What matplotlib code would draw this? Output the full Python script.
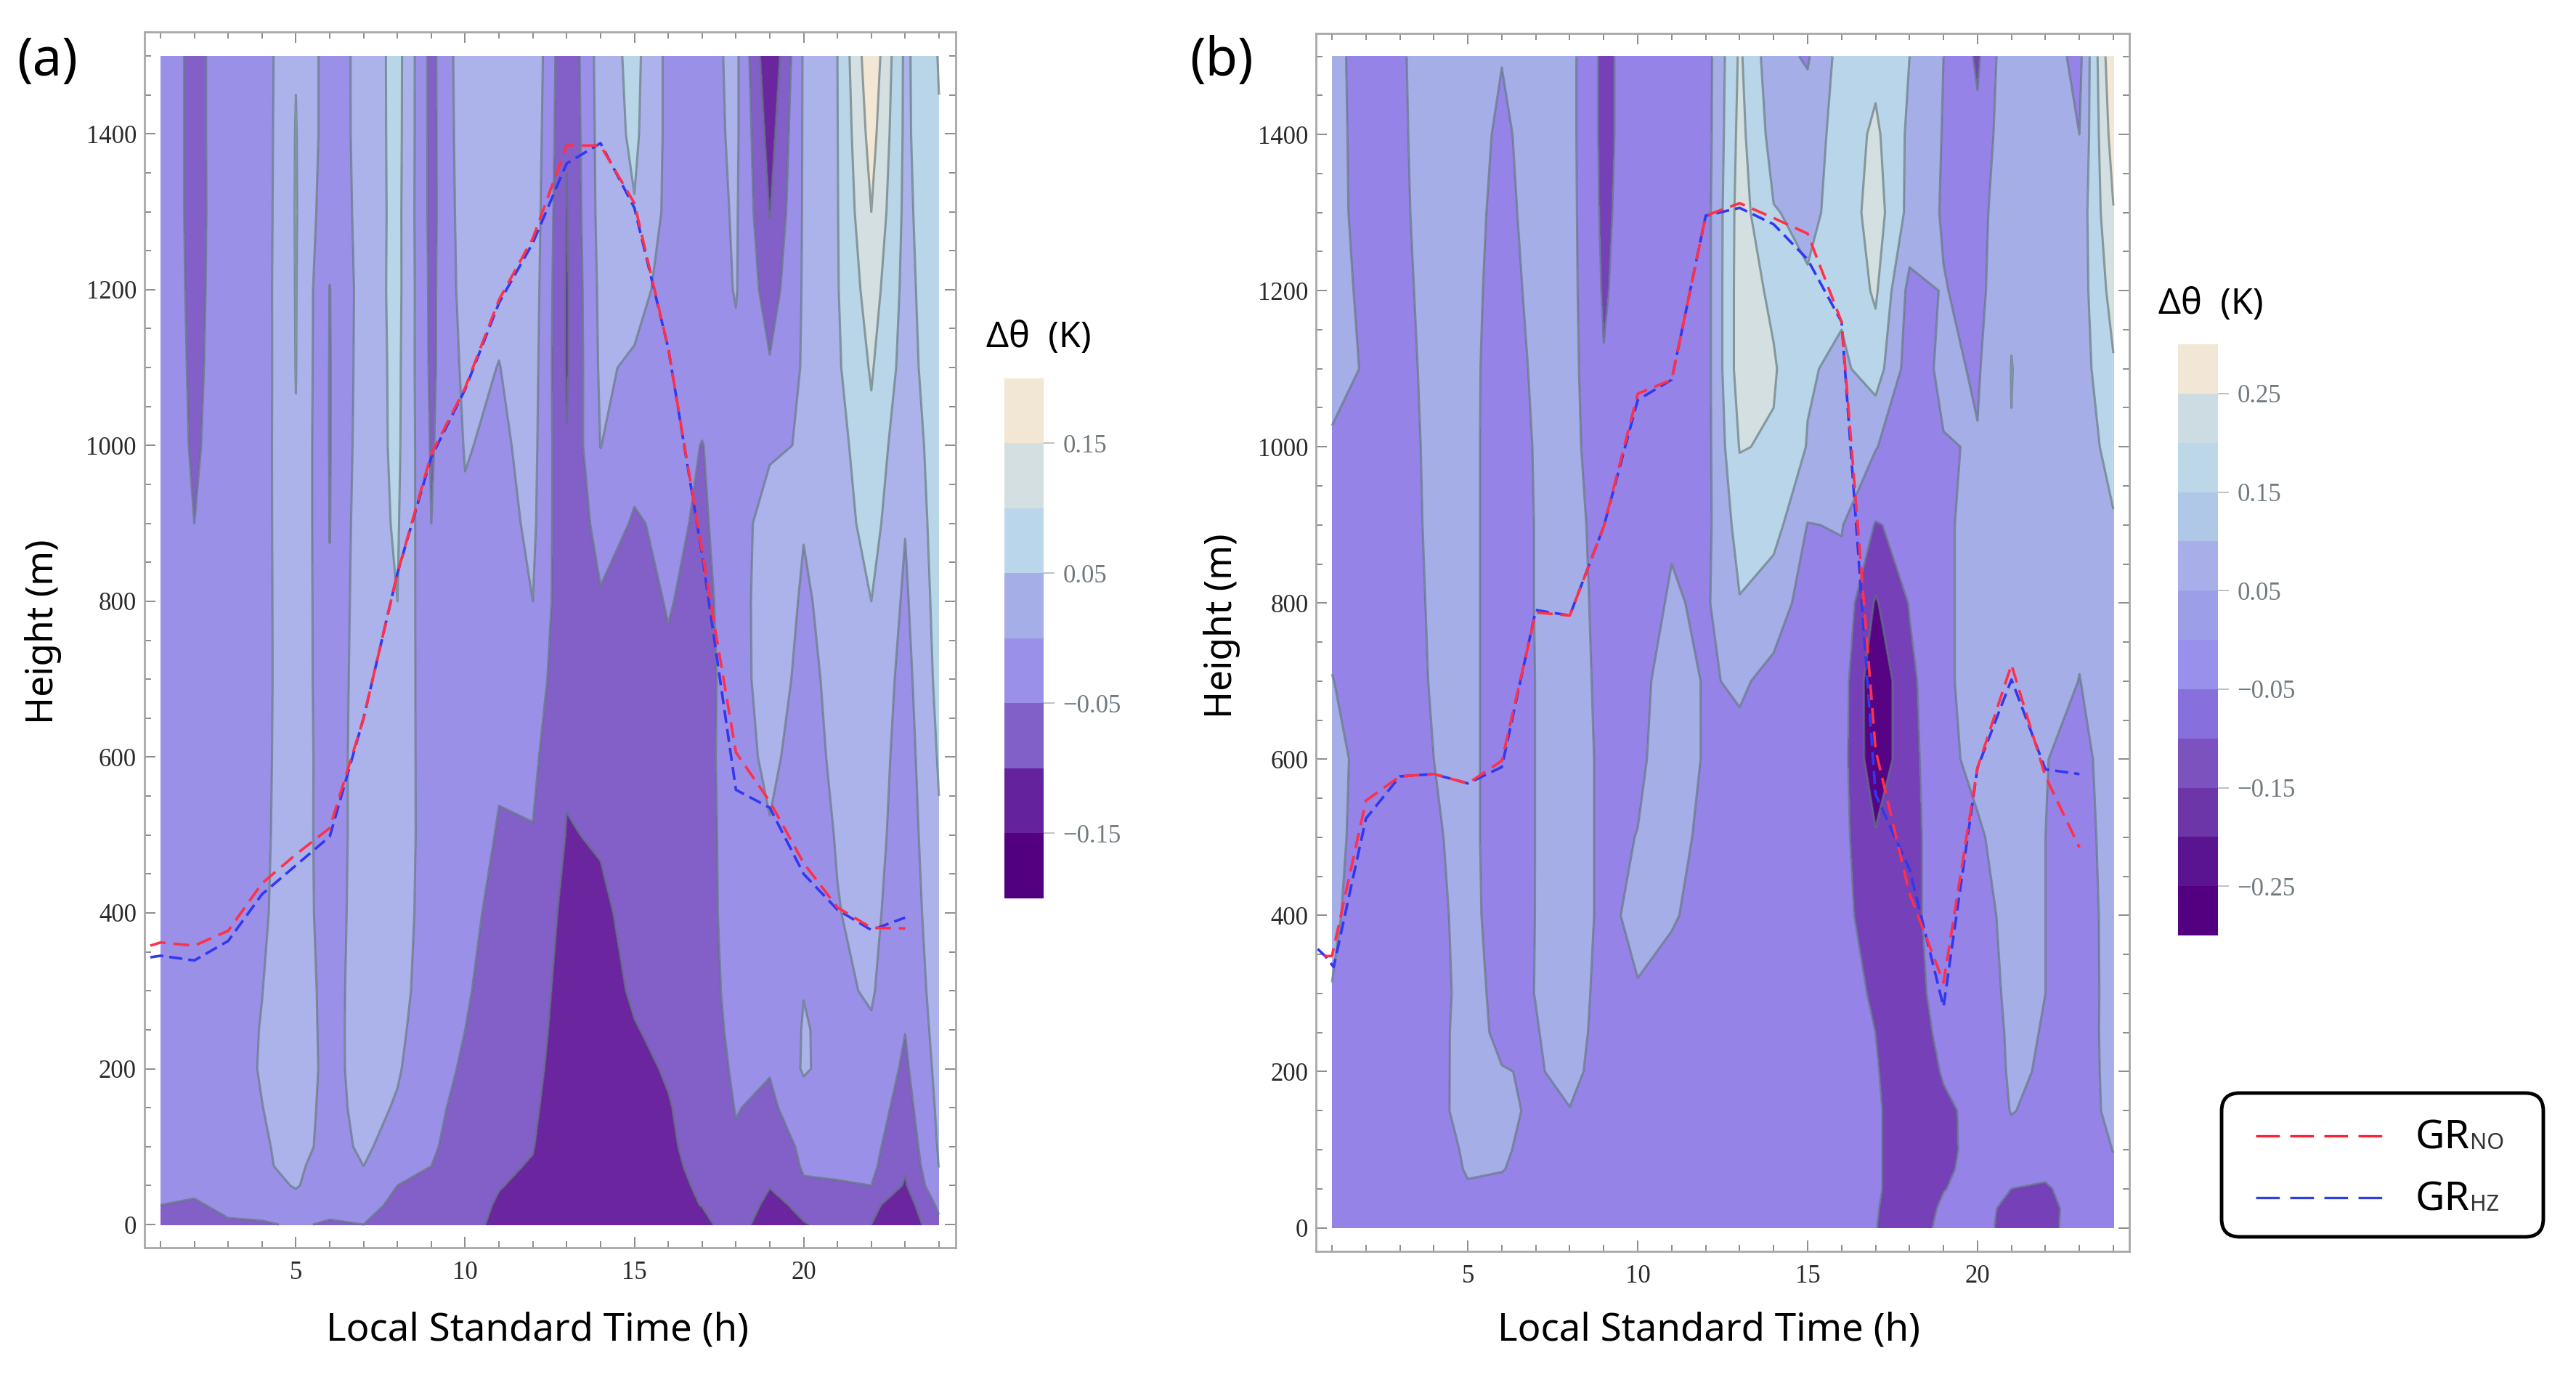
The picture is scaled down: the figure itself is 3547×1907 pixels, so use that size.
import numpy as np
import matplotlib
matplotlib.use("Agg")
import matplotlib.pyplot as plt
from matplotlib.colors import ListedColormap, BoundaryNorm
from matplotlib.lines import Line2D
from matplotlib.patches import FancyBboxPatch
from matplotlib.ticker import MultipleLocator

W, H = 3548, 1907
hours = list(range(1, 25))
heights = [0,25,50,75,100,150,200,250,300,400,500,600,700,800,900,1000,1100,1200,1300,1400,1500]

# Panel (a): potential temperature difference per hour, bottom to top
a_h01 = [-.06,-.05,-.04,-.035,-.03,-.03,-.03,-.03,-.03,-.03,-.03,-.03,-.03,-.03,-.025,-.02,-.015,-.015,-.015,-.015,-.015]
a_h02 = [-.07,-.055,-.04,-.03,-.03,-.03,-.03,-.03,-.03,-.03,-.03,-.03,-.035,-.04,-.05,-.056,-.06,-.063,-.065,-.065,-.065]
a_h03 = [-.055,-.04,-.03,-.03,-.03,-.03,-.03,-.03,-.03,-.03,-.03,-.03,-.03,-.03,-.028,-.026,-.025,-.024,-.023,-.022,-.022]
a_h04 = [-.055,-.03,-.02,-.0064,-.007,-.001,.005,.003,-.001,-.01,-.015,-.018,-.02,-.02,-.02,-.02,-.022,-.022,-.024,-.025,-.025]
a_h05 = [-.045,-.02,.004,.012,.02,.03,.035,.035,.04,.04,.042,.043,.044,.045,.047,.048,.051,.052,.053,.052,.048]
a_h06 = [-.055,-.035,-.03,-.03,-.018,-.02,-.018,-.02,-.025,-.035,-.04,-.04,-.045,-.047,-.051,-.052,-.052,-.051,-.035,-.026,-.024]
a_h07 = [-.05,-.035,-.015,0,.008,.018,.022,.025,.03,.035,.035,.035,.035,.032,.03,.025,.022,.02,.018,.016,.015]
a_h08 = [-.07,-.06,-.05,-.035,-.02,-.005,.005,.012,.02,.03,.035,.04,.045,.05,.055,.06,.062,.065,.065,.067,.068]
a_h09 = [-.075,-.065,-.058,-.05,-.045,-.04,-.035,-.032,-.03,-.03,-.03,-.035,-.04,-.045,-.05,-.055,-.06,-.062,-.065,-.065,-.065]
a_h10 = [-.085,-.08,-.075,-.07,-.068,-.062,-.055,-.05,-.045,-.04,-.03,-.03,-.025,-.015,-.006,.003,.012,.022,.028,.032,.035]
a_h11 = [-.11,-.105,-.098,-.093,-.09,-.085,-.08,-.075,-.07,-.06,-.053,-.045,-.035,-.027,-.018,-.009,-.001,.01,.02,.025,.03]
a_h12 = [-.125,-.118,-.11,-.103,-.098,-.09,-.082,-.075,-.07,-.06,-.052,-.04,-.02,0,.01,.015,.02,.025,.03,.035,.04]
a_h13 = [-.145,-.145,-.145,-.145,-.14,-.14,-.135,-.13,-.125,-.115,-.102,-.095,-.09,-.09,-.095,-.098,-.105,-.105,-.102,-.098,-.095]
a_h14 = [-.135,-.135,-.135,-.135,-.135,-.13,-.125,-.12,-.115,-.106,-.097,-.085,-.07,-.055,-.03,.001,.008,.012,.018,.02,.023]
a_h15 = [-.125,-.125,-.125,-.122,-.12,-.115,-.108,-.102,-.095,-.09,-.085,-.08,-.07,-.062,-.054,-.035,-.008,.02,.047,.06,.065]
a_h16 = [-.115,-.112,-.11,-.108,-.105,-.102,-.097,-.09,-.085,-.075,-.068,-.06,-.055,-.048,-.042,-.035,-.03,-.02,-.012,-.012,-.013]
a_h17 = [-.11,-.099,-.095,-.09,-.088,-.085,-.08,-.078,-.075,-.07,-.07,-.065,-.065,-.06,-.055,-.051,-.035,-.03,-.025,-.022,-.02]
a_h18 = [-.08,-.07,-.065,-.06,-.055,-.048,-.042,-.035,-.03,-.027,-.025,-.028,-.03,-.032,-.03,-.03,-.01,.003,.006,.01,.012]
a_h19 = [-.125,-.112,-.098,-.09,-.08,-.06,-.047,-.04,-.03,-.02,-.005,.015,.035,.04,.03,-.01,-.045,-.075,-.102,-.12,-.145]
a_h20 = [-.102,-.09,-.055,-.045,-.04,-.02,.005,.003,-.001,-.015,-.025,-.03,-.02,-.008,.003,.005,.005,.005,.005,.005,.005]
a_h21 = [-.09,-.08,-.052,-.045,-.04,-.035,-.018,-.012,-.008,-.002,.003,.015,.02,.022,.025,.03,.043,.047,.048,.049,.05]
a_h22 = [-.1,-.09,-.05,-.04,-.035,-.025,-.015,-.005,.005,.015,.025,.032,.04,.05,.07,.088,.105,.125,.15,.17,.19]
a_h23 = [-.14,-.125,-.105,-.095,-.085,-.07,-.058,-.049,-.042,-.035,-.03,-.025,-.018,-.008,.002,.012,.03,.035,.038,.04,.04]
a_h24 = [-.06,-.04,-.012,.001,.005,.01,.015,.02,.025,.035,.045,.055,.065,.07,.075,.08,.08,.082,.088,.097,.103]
panel_a = [a_h01,a_h02,a_h03,a_h04,a_h05,a_h06,a_h07,a_h08,a_h09,a_h10,a_h11,a_h12,
           a_h13,a_h14,a_h15,a_h16,a_h17,a_h18,a_h19,a_h20,a_h21,a_h22,a_h23,a_h24]

# Panel (b)
b_h01 = [-.1,-.1,-.1,-.1,-.1,-.09,-.08,-.07,-.055,-.02,-.02,-.03,-.048,-.07,-.07,-.065,-.01,-.005,-.003,0,0]
b_h02 = [-.1,-.1,-.1,-.1,-.1,-.1,-.1,-.1,-.11,-.13,-.09,-.07,-.08,-.09,-.09,-.08,-.06,-.076,-.1,-.11,-.12]
b_h03 = [-.1,-.1,-.1,-.1,-.1,-.1,-.1,-.1,-.1,-.1,-.1,-.1,-.1,-.095,-.09,-.085,-.08,-.075,-.07,-.068,-.065]
b_h04 = [-.11,-.11,-.11,-.11,-.11,-.08,-.085,-.09,-.1,-.09,-.07,-.05,-.04,-.035,-.03,-.028,-.023,-.015,-.005,.005,.01]
b_h05 = [-.11,-.09,-.06,-.04,-.03,-.015,-.01,-.005,-.005,0,0,0,0,0,0,0,0,.005,.01,.02,.02]
b_h06 = [-.12,-.11,-.08,-.045,-.035,-.03,-.045,-.076,-.087,-.125,-.14,-.14,-.14,-.14,-.14,-.14,-.135,-.12,-.1,-.08,-.045]
b_h07 = [-.12,-.12,-.1,-.095,-.085,-.065,-.06,-.055,-.048,-.048,-.048,-.048,-.048,-.045,-.045,-.04,-.025,-.005,.01,.015,.02]
b_h08 = [-.12,-.115,-.11,-.1,-.08,-.053,-.023,-.01,0,0,0,0,-.005,-.01,-.012,-.015,-.015,-.017,-.018,-.02,-.02]
b_h09 = [-.12,-.12,-.12,-.115,-.11,-.1,-.09,-.085,-.083,-.07,-.07,-.07,-.075,-.08,-.09,-.12,-.145,-.16,-.17,-.175,-.175]
b_h10 = [-.12,-.12,-.12,-.12,-.12,-.12,-.12,-.09,-.055,-.03,-.048,-.065,-.08,-.09,-.09,-.09,-.09,-.09,-.09,-.095,-.095]
b_h11 = [-.12,-.12,-.12,-.12,-.12,-.12,-.12,-.11,-.09,-.04,-.02,-.01,-.005,-.04,-.06,-.07,-.08,-.09,-.09,-.095,-.1]
b_h12 = [-.12,-.12,-.12,-.12,-.12,-.115,-.11,-.105,-.1,-.085,-.07,-.057,-.058,-.065,-.08,-.09,-.095,-.095,-.095,-.1,-.1]
b_h13 = [-.12,-.12,-.12,-.12,-.12,-.12,-.12,-.115,-.11,-.1,-.09,-.07,-.04,.045,.09,.155,.2,.2,.195,.18,.165]
b_h14 = [-.12,-.12,-.12,-.12,-.12,-.12,-.12,-.12,-.12,-.11,-.1,-.09,-.07,-.015,.09,.14,.16,.13,.055,.01,-.02]
b_h15 = [-.12,-.12,-.12,-.12,-.12,-.12,-.12,-.12,-.12,-.12,-.11,-.1,-.09,-.08,-.053,.045,.06,.06,.03,0,-.06]
b_h16 = [-.12,-.12,-.12,-.12,-.12,-.12,-.12,-.12,-.12,-.12,-.12,-.11,-.1,-.08,-.045,-.02,.03,.07,.08,.09,.09]
b_h17 = [-.148,-.145,-.14,-.14,-.14,-.14,-.145,-.15,-.16,-.2,-.24,-.32,-.33,-.26,-.155,-.045,.1,.165,.2,.17,.12]
b_h18 = [-.19,-.19,-.19,-.19,-.19,-.19,-.19,-.19,-.19,-.19,-.19,-.18,-.17,-.145,-.13,-.12,-.1,-.08,.02,.03,.05]
b_h19 = [-.13,-.14,-.152,-.16,-.165,-.16,-.145,-.13,-.11,-.08,-.08,-.08,-.08,-.075,-.07,-.055,-.03,-.045,-.06,-.055,-.05]
b_h20 = [-.13,-.13,-.13,-.13,-.13,-.135,-.13,-.125,-.12,-.1,-.065,-.02,.01,0,-.01,-.045,-.06,-.08,-.09,-.13,-.165]
b_h21 = [-.17,-.165,-.15,-.13,-.09,-.045,-.035,-.03,-.02,-.01,0,.01,.02,.03,.04,.048,.052,.04,.035,.04,.04]
b_h22 = [-.17,-.165,-.155,-.14,-.11,-.08,-.06,-.055,-.05,-.05,-.05,-.048,0,0,0,0,0,0,0,0,0]
b_h23 = [-.12,-.13,-.13,-.13,-.13,-.12,-.11,-.105,-.1,-.09,-.08,-.07,-.052,-.03,-.02,-.01,0,0,-.01,-.05,-.08]
b_h24 = [-.11,-.1,-.085,-.065,-.047,-.01,-.01,-.01,-.015,-.02,-.02,-.02,0,.02,.04,.09,.14,.19,.245,.3,.35]
panel_b = [b_h01,b_h02,b_h03,b_h04,b_h05,b_h06,b_h07,b_h08,b_h09,b_h10,b_h11,b_h12,
           b_h13,b_h14,b_h15,b_h16,b_h17,b_h18,b_h19,b_h20,b_h21,b_h22,b_h23,b_h24]

# Growth-layer height lines
a_no_t = [0.7] + list(range(1, 24))
a_no_z = [358,362,358,377,438,475,509,650,836,989,1074,1187,1266,1385,1385,1311,1125,864,606,543,464,407,381,380]
a_hz_t = [0.7] + list(range(1, 24))
a_hz_z = [343,345,339,364,424,461,498,650,836,985,1072,1183,1260,1362,1388,1305,1125,860,558,535,450,404,378,394]
b_no_t = [0.77] + list(range(1, 24))
b_no_z = [348,348,547,578,581,569,598,788,784,898,1068,1086,1296,1312,1293,1273,1160,612,428,314,589,721,578,487]
b_hz_t = [0.58,0.8,1.05] + list(range(2, 24))
b_hz_z = [357,348,334,524,578,581,569,590,791,784,898,1060,1086,1296,1306,1285,1240,1160,555,459,283,589,702,587,581]

# Contour levels and colours
a_levels = [-.2,-.15,-.1,-.05,0,.05,.1,.15,.2]
a_colors = ['#52007F','#6A259F','#8360C8','#9B90E8','#ABB3EA','#B8D6E8','#D3DFE0','#F2E6D5']
b_levels = [-.4,-.25,-.15,-.05,.05,.15,.25,.4]
b_colors = ['#560484','#7540B8','#9583E8','#A6AEE8','#B8D5EA','#D3DFE0','#F2E7D6']

# Colour bars
cb_a_levels = [-.2,-.15,-.1,-.05,0,.05,.1,.15,.2]
cb_a_colors = ['#52007F','#64229C','#8160C8','#9A90EA','#A6AEE8','#B9D6EA','#D3DFE0','#F2E6D5']
cb_a_ticks = [-.15,-.05,.05,.15]
cb_b_levels = [-.3,-.25,-.2,-.15,-.1,-.05,0,.05,.1,.15,.2,.25,.3]
cb_b_colors = ['#52007F','#5A1490','#6C36A8','#7B52BE','#8870DC','#9890EA','#9C9FE8','#A8AEE8','#AFC8E8','#BCD8E8','#CDDCE2','#F2E7D6']
cb_b_ticks = [-.25,-.15,-.05,.05,.15,.25]

SANS = 'Noto Sans'
SERIF = 'Liberation Serif'
fig = plt.figure(figsize=(W/100, H/100), dpi=100, facecolor='white')

def rect(l, t, r, b):
    return [l/W, 1-b/H, (r-l)/W, (b-t)/H]

def panel(box, xlim, ylim, field, levels, colors, red, blue):
    ax = fig.add_axes(rect(*box))
    Z = np.array(field).T
    ax.contourf(hours, heights, Z, levels=levels, colors=colors)
    ax.contour(hours, heights, Z, levels=levels[1:-1], colors='#5f7378',
               linewidths=2.2, alpha=0.65, linestyles='solid')
    ax.plot(blue[0], blue[1], color='#3038F0', lw=2.6, dashes=(5, 2.3))
    ax.plot(red[0], red[1], color='#FF3048', lw=2.6, dashes=(6, 3))
    ax.set_xlim(*xlim)
    ax.set_ylim(*ylim)
    ax.xaxis.set_major_locator(MultipleLocator(5))
    ax.xaxis.set_minor_locator(MultipleLocator(1))
    ax.yaxis.set_major_locator(MultipleLocator(200))
    ax.yaxis.set_minor_locator(MultipleLocator(50))
    ax.tick_params(which='both', direction='in', top=True, right=True, color='#8c8c8c', width=1.4)
    ax.tick_params(which='major', length=11)
    ax.tick_params(which='minor', length=6.5)
    ax.tick_params(axis='x', which='major', pad=13)
    ax.tick_params(axis='y', which='major', pad=8)
    for lab in ax.get_xticklabels() + ax.get_yticklabels():
        lab.set_fontfamily(SERIF)
        lab.set_fontsize(25)
        lab.set_color('#2a2a2a')
    for s in ax.spines.values():
        s.set_color('#a8a8a8')
        s.set_linewidth(2.0)
    return ax

panel((199, 44, 1316, 1718), (0.528, 24.494), (-29.8, 1530.8), panel_a, a_levels, a_colors,
      (a_no_t, a_no_z), (a_hz_t, a_hz_z))
panel((1812.5, 46, 2932, 1723), (0.54, 24.47), (-30.2, 1529.4), panel_b, b_levels, b_colors,
      (b_no_t, b_no_z), (b_hz_t, b_hz_z))

def colorbar(box, levels, colors, ticks):
    cax = fig.add_axes(rect(*box))
    vals = np.array([(levels[i]+levels[i+1])/2 for i in range(len(colors))]).reshape(-1, 1)
    cax.pcolormesh([0, 1], levels, vals, cmap=ListedColormap(colors),
                   norm=BoundaryNorm(levels, len(colors)))
    cax.set_xticks([])
    cax.yaxis.tick_right()
    cax.set_yticks(ticks)
    cax.set_yticklabels([f'{t:.2f}'.replace('-', '\u2212') for t in ticks],
                        fontfamily=SERIF, fontsize=25, color='#707a80')
    cax.tick_params(axis='y', direction='out', length=11, width=1.4, color='#c0c0c0', pad=8)
    for s in cax.spines.values():
        s.set_visible(False)

colorbar((1383, 520.5, 1437, 1236.5), cb_a_levels, cb_a_colors, cb_a_ticks)
colorbar((2999, 474, 3054, 1288), cb_b_levels, cb_b_colors, cb_b_ticks)

def ftext(x, y, s, **kw):
    kw.setdefault('family', SANS)
    kw.setdefault('color', 'black')
    kw.setdefault('ha', 'center')
    kw.setdefault('va', 'center')
    return fig.text(x/W, 1-y/H, s, **kw)

ftext(65, 85, '(a)', fontsize=52)
ftext(1682, 85, '(b)', fontsize=52)
ftext(740, 1832, 'Local Standard Time (h)', fontsize=38)
ftext(2353, 1832, 'Local Standard Time (h)', fontsize=38)
ftext(60, 870, 'Height (m)', fontsize=37, rotation=90)
ftext(1683, 862, 'Height (m)', fontsize=37, rotation=90)
ftext(1430, 465, '\u0394\u03b8  (K)', fontsize=35)
ftext(3044, 419, '\u0394\u03b8  (K)', fontsize=35)

# Legend
box = FancyBboxPatch((3059/W, 1-1703/H), (3502-3059)/W, (1703-1505)/H,
                     boxstyle='round,pad=0,rounding_size=0.007', transform=fig.transFigure,
                     fc='white', ec='black', lw=3.5, mutation_aspect=W/H)
fig.add_artist(box)
leg_x = [3106/W, 3289/W]
fig.add_artist(Line2D(leg_x, [1-1564/H]*2, color='#FF2030', lw=2.4, dashes=(9.8, 4.3), transform=fig.transFigure))
fig.add_artist(Line2D(leg_x, [1-1649/H]*2, color='#3040E0', lw=2.4, dashes=(9.8, 4.3), transform=fig.transFigure))
ftext(3326, 1567, 'GR', fontsize=40, ha='left')
ftext(3326, 1652, 'GR', fontsize=40, ha='left')
ftext(3401, 1574, 'NO', fontsize=22, ha='left', color='#333333')
ftext(3401, 1659, 'HZ', fontsize=22, ha='left', color='#333333')

fig.savefig('out.png', dpi=100, facecolor='white')
